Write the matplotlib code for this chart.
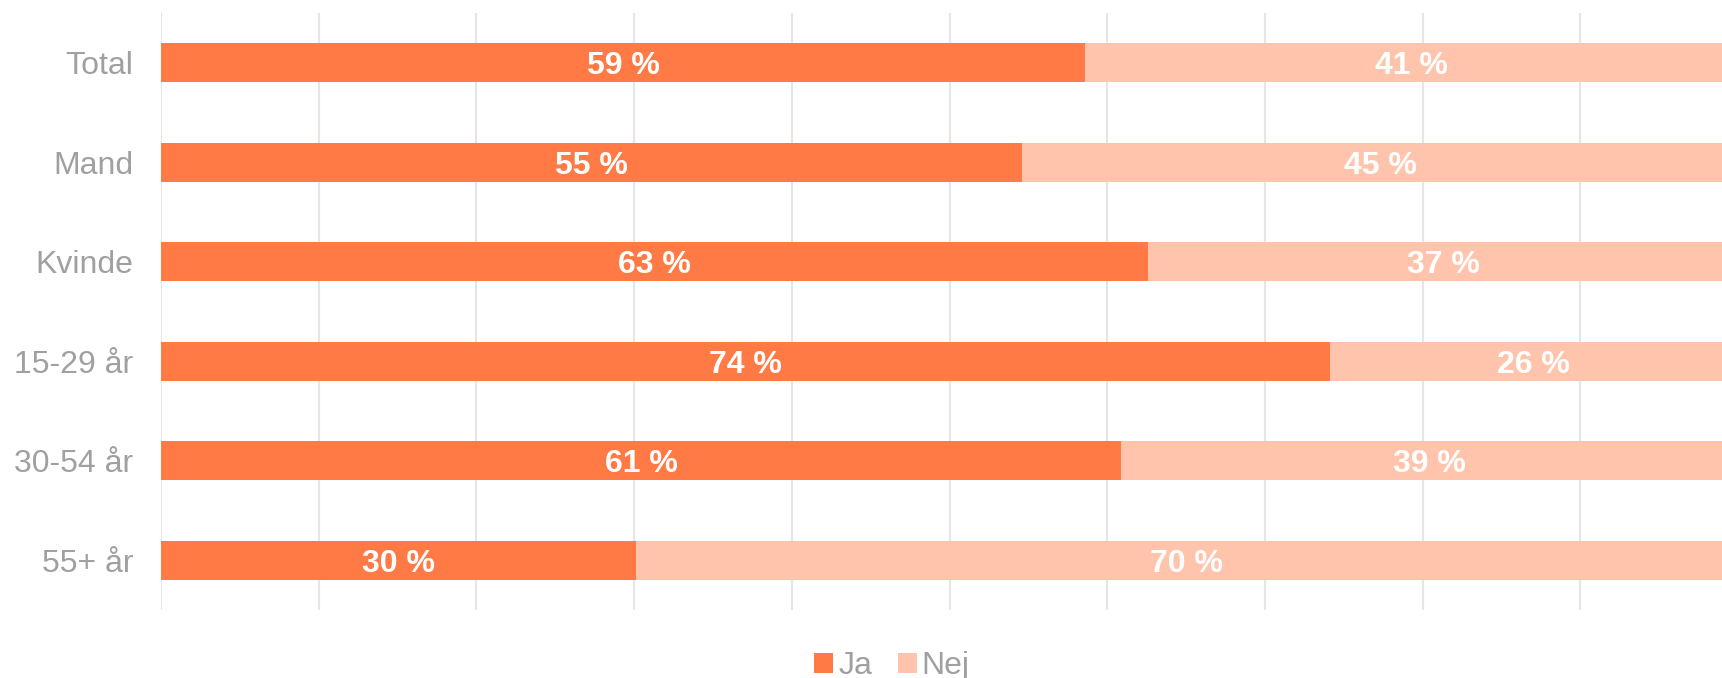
import matplotlib
matplotlib.use("Agg")
import matplotlib.pyplot as plt
import numpy as np

plt.rcParams['font.family'] = ['Liberation Sans', 'DejaVu Sans']

kategorier = ['Total', 'Mand', 'Kvinde', '15-29 år', '30-54 år', '55+ år']
ja = [58.6, 54.6, 62.6, 74.1, 60.9, 30.1]
nej = [41.4, 45.4, 37.4, 25.9, 39.1, 69.9]

farve_ja = '#FF7A45'
farve_nej = '#FFC4AB'
graa = '#A0A0A0'

fig = plt.figure(figsize=(17.22, 6.78), dpi=100)
ax = fig.add_axes([161 / 1722, 68 / 678, 1 - 161 / 1722, (610 - 13) / 678])

y = np.arange(len(kategorier))
b1 = ax.barh(y, ja, height=0.39, color=farve_ja, label='Ja', zorder=2)
b2 = ax.barh(y, nej, left=ja, height=0.39, color=farve_nej, label='Nej', zorder=2)

for i in range(len(kategorier)):
    ax.text(ja[i] / 2, y[i], f'{ja[i]:.0f} %', color='white', fontsize=23,
            fontweight='bold', ha='center', va='center_baseline', zorder=3)
    ax.text(ja[i] + nej[i] / 2, y[i], f'{nej[i]:.0f} %', color='white', fontsize=23,
            fontweight='bold', ha='center', va='center_baseline', zorder=3)

ax.set_xlim(0, 98.98)
ax.set_ylim(len(kategorier) - 0.5, -0.5)
ax.set_xticks(np.arange(0, 100, 10))
ax.set_xticklabels([])
ax.set_yticks(y)
ax.set_yticklabels(kategorier, color=graa, fontsize=23)
ax.tick_params(axis='both', length=0)
ax.tick_params(axis='y', pad=20)
ax.grid(axis='x', color='#E6E6E6', linewidth=1.5, zorder=0)
for s in ax.spines.values():
    s.set_visible(False)

leg = fig.legend(handles=[b1, b2], labels=['Ja', 'Nej'], loc='center',
                 bbox_to_anchor=(892 / 1722, 12 / 678), ncol=2, frameon=False,
                 fontsize=23, handlelength=0.6, handleheight=0.6,
                 handletextpad=0.15, columnspacing=0.8)
for t in leg.get_texts():
    t.set_color(graa)

fig.savefig('out.png', dpi=100)
